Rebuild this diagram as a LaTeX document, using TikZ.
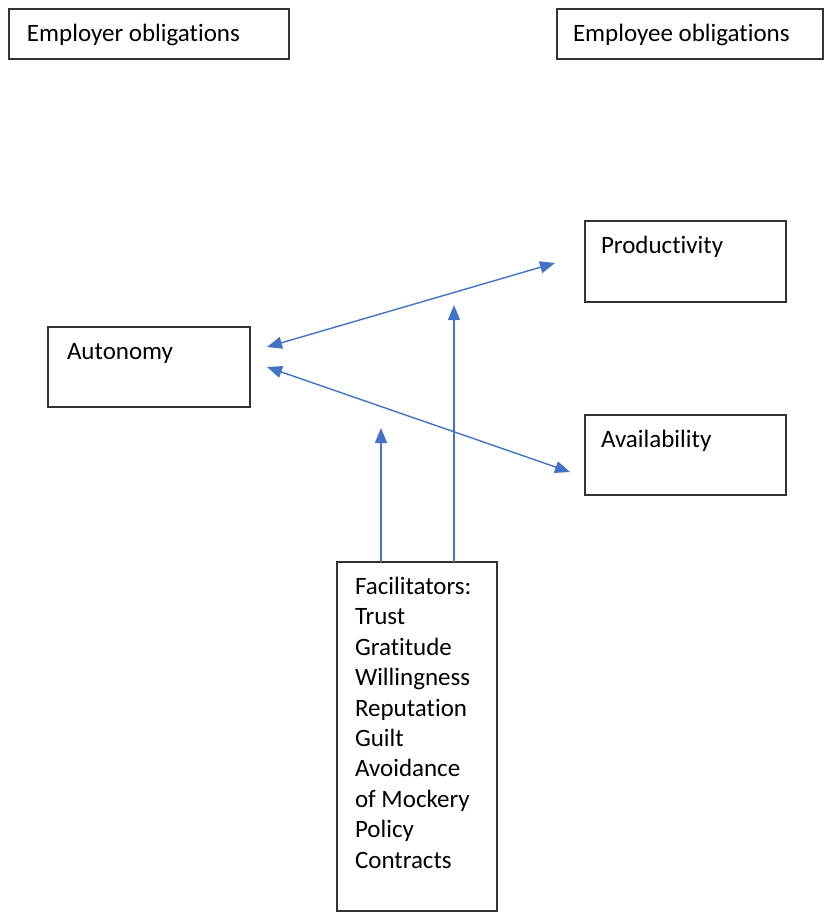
\documentclass[tikz,border=0pt]{standalone}
\usepackage{fontspec}
\setmainfont{Carlito}[Ligatures=NoCommon]
\usetikzlibrary{arrows.meta}

\definecolor{linkblue}{HTML}{4472C4}
\tikzstyle{box} = [draw=black!80, line width=1.3pt, anchor=north west, inner sep=0pt, outer sep=0pt]
\tikzstyle{link} = [draw=linkblue, line width=1.4pt]

% width, height, left inset, text
\newcommand{\boxtext}[4]{\parbox[t][#2pt][t]{#1pt}{\raggedright\leftskip=#3pt\rule{0pt}{32.5pt}#4}}

\begin{document}
\begin{tikzpicture}[x=1pt,y=-1pt,font=\fontsize{25}{30.4}\selectfont,
	>={Triangle[length=15pt,width=12pt]}]
\useasboundingbox (0,0) rectangle (824,913);

% obligations headers
\node [box] (employer) at (9,9) {\boxtext{280}{50}{18}{Employer obligations}};
\node [box] (employee) at (557,9) {\boxtext{266}{50}{16}{Employee obligations}};

% outcomes
\node [box] (prod) at (585,221) {\boxtext{201}{81}{16}{Productivity}};
\node [box] (aut) at (48,327) {\boxtext{202}{80}{19}{Autonomy}};
\node [box] (avail) at (585,415) {\boxtext{201}{80}{16}{Availability}};

% facilitators
\node [box] (fac) at (337,562) {\boxtext{160}{349}{18}{Facilitators:\\
	Trust\\
	Gratitude\\
	Willingness\\
	Reputation\\
	Guilt\\
	Avoidance\\
	of Mockery\\
	Policy\\
	Contracts}};

% free arrow ends
\coordinate (autup) at (267,347);
\coordinate (autdown) at (267,367);
\coordinate (prodend) at (555,263);
\coordinate (availend) at (570,472);
\coordinate (facleft) at (381,428);
\coordinate (facright) at (454,305);

\draw [link,<->] (autup) -- (prodend);
\draw [link,<->] (autdown) -- (availend);
\draw [link,->] (fac.north -| facleft) -- (facleft);
\draw [link,->] (fac.north -| facright) -- (facright);
\end{tikzpicture}
\end{document}
